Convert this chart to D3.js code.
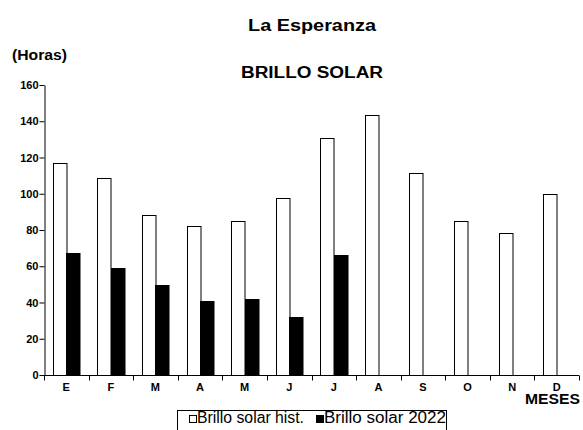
<!DOCTYPE html>
<html><head><meta charset="utf-8">
<script src="https://cdn.jsdelivr.net/npm/d3@7"></script>
<style>body{margin:0;background:#fff;} text{font-family:"Liberation Sans",Arial,sans-serif;}</style>
</head><body>
<svg id="c" width="583" height="430"></svg>
<script>
const months = ["E","F","M","A","M","J","J","A","S","O","N","D"];
const hist = [117, 108.5, 88.5, 82, 85, 97.5, 130.5, 143.3, 111.3, 85.1, 78.3, 99.6];
const y2022 = [67.3, 59, 49.5, 40.6, 41.7, 32.2, 66.2, null, null, null, null, null];
const yTicks = [0,20,40,60,80,100,120,140,160];
const seriesNames = ["Brillo solar hist.", "Brillo solar 2022"];

const svg = d3.select("#c");
const x = d3.scaleBand().domain(d3.range(months.length)).range([44, 579]).padding(0);
const y = d3.scaleLinear().domain([0,160]).range([375, 85]);
const sub = d3.scaleBand().domain([0,1]).range([0, 27]);
const off = (x.bandwidth() - 27) / 2;

// titles
svg.append("text").attr("x", 312).attr("y", 31).attr("text-anchor","middle")
  .attr("font-size", 17).attr("font-weight","bold")
  .attr("textLength", 128).attr("lengthAdjust","spacingAndGlyphs").text("La Esperanza");
svg.append("text").attr("x", 312).attr("y", 78).attr("text-anchor","middle")
  .attr("font-size", 16).attr("font-weight","bold")
  .attr("textLength", 142).attr("lengthAdjust","spacingAndGlyphs").text("BRILLO SOLAR");
svg.append("text").attr("x", 12).attr("y", 60)
  .attr("font-size", 14).attr("font-weight","bold")
  .attr("textLength", 55).attr("lengthAdjust","spacingAndGlyphs").text("(Horas)");

// bars
const g = svg.append("g");
g.selectAll("rect.h").data(hist).join("rect").attr("class","h")
  .attr("x", (d,i) => Math.round(x(i) + off + sub(0)) + 0.5)
  .attr("y", d => Math.round(y(d)) + 0.5)
  .attr("width", sub.bandwidth())
  .attr("height", d => y(0) - Math.round(y(d)))
  .attr("fill","#fff").attr("stroke","#000").attr("stroke-width",1);
g.selectAll("rect.n").data(y2022.map((v,i)=>({v,i})).filter(d=>d.v!=null)).join("rect").attr("class","n")
  .attr("x", d => Math.round(x(d.i) + off + sub(1)) + 0.5)
  .attr("y", d => Math.round(y(d.v)) + 0.5)
  .attr("width", sub.bandwidth())
  .attr("height", d => y(0) - Math.round(y(d.v)))
  .attr("fill","#000").attr("stroke","#000").attr("stroke-width",1);

// y axis
const ya = svg.append("g").attr("transform","translate(44.5,0)")
  .call(d3.axisLeft(y).tickValues(yTicks).tickSize(5).tickSizeOuter(0).tickPadding(1));
ya.select(".domain").attr("stroke","#000");
ya.selectAll("text").attr("font-size", 11).attr("font-weight","bold")
  .attr("font-family","'Liberation Sans',Arial,sans-serif").attr("fill","#000");

// x axis
const xa = svg.append("g").attr("transform","translate(0,375.5)");
xa.append("line").attr("x1", 44).attr("x2", 579).attr("stroke","#000");
const bounds = d3.range(months.length + 1).map(i => i < months.length ? x(i) : x(months.length-1) + x.bandwidth());
xa.selectAll("line.t").data(bounds).join("line").attr("class","t")
  .attr("x1", d => Math.round(d)+0.5).attr("x2", d => Math.round(d)+0.5)
  .attr("y1", 0).attr("y2", 5).attr("stroke","#000");
xa.selectAll("text").data(months).join("text")
  .attr("x", (d,i) => x(i) + x.bandwidth()/2).attr("y", 15)
  .attr("text-anchor","middle").attr("font-size", 11).attr("font-weight","bold").text(d => d);
svg.append("text").attr("x", 580).attr("y", 404).attr("text-anchor","end")
  .attr("font-size", 14).attr("font-weight","bold")
  .attr("textLength", 55).attr("lengthAdjust","spacingAndGlyphs").text("MESES");

// legend
const lg = svg.append("g");
lg.append("rect").attr("x", 177.5).attr("y", 410.5).attr("width", 269).attr("height", 24)
  .attr("fill","#fff").attr("stroke","#000");
lg.append("rect").attr("x", 189.5).attr("y", 415.5).attr("width", 7).attr("height", 7)
  .attr("fill","#fff").attr("stroke","#000");
lg.append("text").attr("x", 197).attr("y", 423).attr("font-size", 16)
  .attr("textLength", 107).attr("lengthAdjust","spacingAndGlyphs").text(seriesNames[0]);
lg.append("rect").attr("x", 316.5).attr("y", 415.5).attr("width", 7).attr("height", 7)
  .attr("fill","#000").attr("stroke","#000");
lg.append("text").attr("x", 324).attr("y", 423).attr("font-size", 16)
  .attr("textLength", 122).attr("lengthAdjust","spacingAndGlyphs").text(seriesNames[1]);
</script>
</body></html>
